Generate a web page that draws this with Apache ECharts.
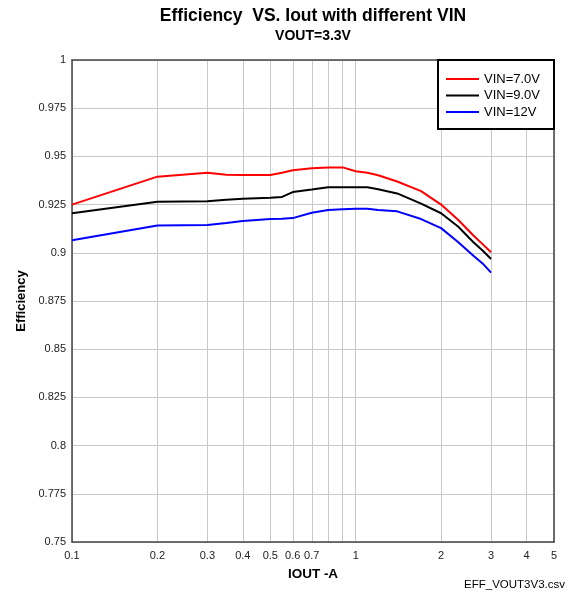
<!DOCTYPE html>
<html><head><meta charset="utf-8">
<script src="https://cdn.jsdelivr.net/npm/echarts@6/dist/echarts.min.js"></script>
<style>html,body{margin:0;padding:0;background:#fff}#c{width:574px;height:599px}</style>
</head><body><div id="c"></div>
<script>
// Data
const iout      = [0.1, 0.2, 0.3, 0.35, 0.4, 0.5, 0.55, 0.6, 0.7, 0.8, 0.9, 1.0, 1.1, 1.2, 1.4, 1.7, 2.0, 2.3, 2.6, 2.8, 3.0];
const effVin7   = [0.925, 0.9395, 0.9415, 0.9405, 0.9403, 0.9403, 0.9415, 0.9428, 0.9438, 0.9443, 0.9443, 0.9423, 0.9415, 0.9402, 0.9370, 0.9320, 0.9250, 0.9170, 0.9090, 0.9045, 0.9003];
const effVin9   = [0.9205, 0.9265, 0.9267, 0.9275, 0.928, 0.9285, 0.929, 0.9315, 0.9328, 0.934, 0.934, 0.934, 0.934, 0.9330, 0.9308, 0.9255, 0.9205, 0.9135, 0.9055, 0.9012, 0.8968];
const effVin12  = [0.9065, 0.9142, 0.9144, 0.9155, 0.9165, 0.9175, 0.9177, 0.9180, 0.9208, 0.9222, 0.9226, 0.9228, 0.9228, 0.9222, 0.9215, 0.9175, 0.9128, 0.9055, 0.8985, 0.8945, 0.8897];
const seriesNames = ['VIN=7.0V', 'VIN=9.0V', 'VIN=12V'];
const seriesColors = ['#ff0000', '#000000', '#0000ff'];
const xLabelValues = [0.1, 0.2, 0.3, 0.4, 0.5, 0.6, 0.7, 1, 2, 3, 4, 5];
const xGridValues  = [0.1, 0.2, 0.3, 0.4, 0.5, 0.6, 0.7, 0.8, 0.9, 1, 2, 3, 4, 5];

const pair = ys => iout.map((x, i) => [x, ys[i]]);
const allY = [effVin7, effVin9, effVin12];

const chart = echarts.init(document.getElementById('c'), null, {renderer: 'canvas'});
const FONT = 'Arial, "Liberation Sans", sans-serif';
const frame = {show: true, lineStyle: {color: '#444', width: 1.5}};
chart.setOption({
  animation: false,
  backgroundColor: '#fff',
  legend: {
    orient: 'vertical', left: 438, top: 60,
    padding: [12.5, 14, 10.5, 8], itemGap: 3.5,
    itemWidth: 33, itemHeight: 2, icon: 'rect',
    backgroundColor: '#fff', borderColor: '#000', borderWidth: 2,
    textStyle: {fontFamily: FONT, fontSize: 13, color: '#000'},
    data: seriesNames
  },
  grid: {left: 72, right: 20, top: 60, bottom: 57, outerBoundsMode: 'none'},
  xAxis: [{
    type: 'log', logBase: 10, min: 0.1, max: 5,
    name: 'IOUT -A', nameLocation: 'middle', nameGap: 25,
    nameTextStyle: {fontFamily: FONT, fontSize: 13.5, fontWeight: 'bold', color: '#000'},
    axisLine: frame,
    axisTick: {show: false, customValues: xGridValues},
    axisLabel: {customValues: xLabelValues, fontFamily: FONT, fontSize: 11, color: '#222', margin: 8,
      formatter: v => String(parseFloat(Number(v).toFixed(2)))},
    splitLine: {show: true, lineStyle: {color: '#c8c8c8', width: 1}},
    minorTick: {show: false}, minorSplitLine: {show: false}
  }, {
    type: 'log', logBase: 10, min: 0.1, max: 5, position: 'top',
    axisLine: frame, axisTick: {show: false}, axisLabel: {show: false}, splitLine: {show: false}
  }],
  yAxis: [{
    type: 'value', min: 0.75, max: 1, interval: 0.025,
    name: 'Efficiency', nameLocation: 'middle', nameGap: 44, nameRotate: 90,
    nameTextStyle: {fontFamily: FONT, fontSize: 13, fontWeight: 'bold', color: '#000'},
    axisLine: frame, axisTick: {show: false},
    axisLabel: {fontFamily: FONT, fontSize: 11, color: '#222', margin: 6,
      formatter: v => String(parseFloat(Number(v).toFixed(3)))},
    splitLine: {show: true, lineStyle: {color: '#c8c8c8', width: 1}}
  }, {
    type: 'value', min: 0.75, max: 1, interval: 0.025, position: 'right',
    axisLine: frame, axisTick: {show: false}, axisLabel: {show: false}, splitLine: {show: false}
  }],
  graphic: [{
    type: 'text', x: 313, y: 16,
    style: {text: 'Efficiency  VS. Iout with different VIN', fontFamily: FONT, fontSize: 17.5, fontWeight: 'bold',
      fill: '#000', textAlign: 'center', textVerticalAlign: 'middle'}
  }, {
    type: 'text', x: 313, y: 36,
    style: {text: 'VOUT=3.3V', fontFamily: FONT, fontSize: 14, fontWeight: 'bold',
      fill: '#000', textAlign: 'center', textVerticalAlign: 'middle'}
  }, {
    type: 'text', right: 9, top: 579,
    style: {text: 'EFF_VOUT3V3.csv', fontFamily: FONT, fontSize: 11.5, fill: '#000'}
  }],
  series: seriesNames.map((n, k) => ({
    name: n, type: 'line', data: pair(allY[k]),
    showSymbol: false, symbol: 'none', smooth: false,
    lineStyle: {color: seriesColors[k], width: 2},
    itemStyle: {color: seriesColors[k]}
  }))
});
</script></body></html>
